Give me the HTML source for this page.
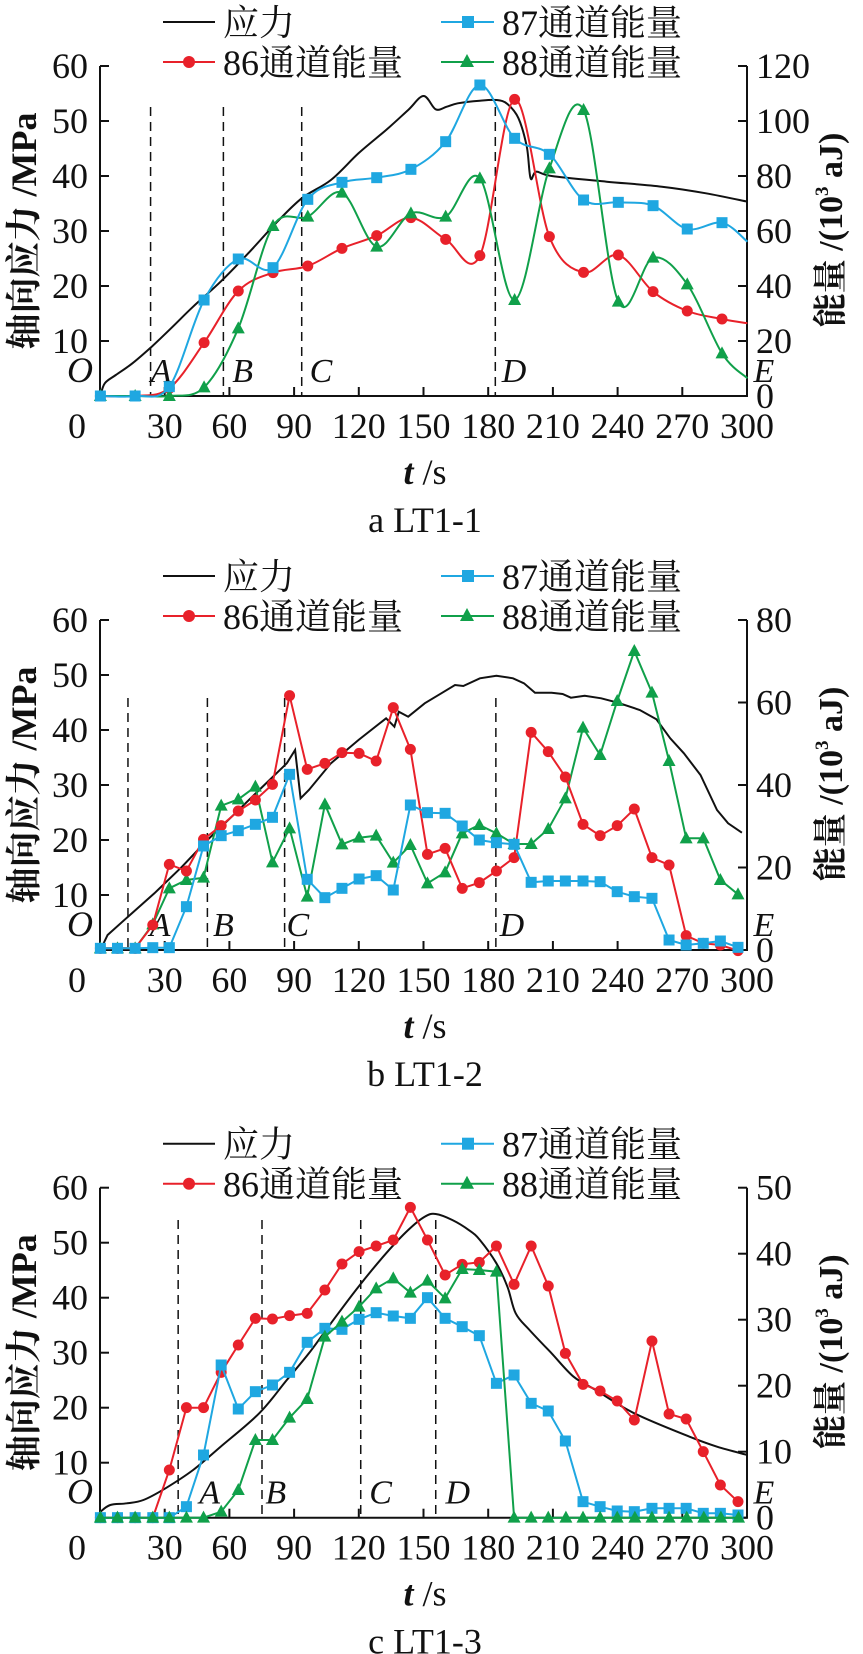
<!DOCTYPE html>
<html><head><meta charset="utf-8">
<style>
html,body{margin:0;padding:0;background:#fff;}
svg{display:block;}
text{font-family:"Liberation Serif","Noto Serif CJK SC",serif;fill:#111;}
</style></head>
<body>
<svg id="s" width="863" height="1654" xmlns="http://www.w3.org/2000/svg"></svg>
<script>
var S=document.getElementById('s');var H='';
var F=1.813;
function X(z){return z/F;}
function pts(arr,off){var r=[];for(var i=0;i<arr.length;i+=2)r.push([X(arr[i]),arr[i+1]/3+off]);return r;}
function lin(p){return 'M'+p.map(function(q){return q[0].toFixed(1)+','+q[1].toFixed(1)}).join('L');}
function cr(p){var d='M'+p[0][0].toFixed(1)+','+p[0][1].toFixed(1);for(var i=0;i<p.length-1;i++){var p0=p[i-1]||p[i],p1=p[i],p2=p[i+1],p3=p[i+2]||p2;var t=6;d+='C'+(p1[0]+(p2[0]-p0[0])/t).toFixed(1)+','+(p1[1]+(p2[1]-p0[1])/t).toFixed(1)+' '+(p2[0]-(p3[0]-p1[0])/t).toFixed(1)+','+(p2[1]-(p3[1]-p1[1])/t).toFixed(1)+' '+p2[0].toFixed(1)+','+p2[1].toFixed(1);}return d;}
function path(d,c,w,extra){H+='<path d="'+d+'" fill="none" stroke="'+c+'" stroke-width="'+w+'" '+(extra||'')+'/>';}
var RED='#e8212a',BLUE='#1fa7e1',GREEN='#10a04a';
function mk(p,type,skipLast){for(var i=0;i<p.length;i++){if(skipLast&&i==p.length-1)continue;var x=p[i][0],y=p[i][1];
 if(type=='c')H+='<circle cx="'+x+'" cy="'+y+'" r="5.5" fill="'+RED+'"/>';
 else if(type=='s')H+='<rect x="'+(x-5.5)+'" y="'+(y-5.5)+'" width="11" height="11" fill="'+BLUE+'"/>';
 else H+='<polygon points="'+x+','+(y-7)+' '+(x-6.5)+','+(y+5)+' '+(x+6.5)+','+(y+5)+'" fill="'+GREEN+'"/>';}}
function series(arr,off,type,col,smooth,skipLast){var p=pts(arr,off);path(smooth?cr(p):lin(p),col,2);mk(p,type,skipLast);}
function panel(o){
 var y0=o.y0,y60=y0-330;
 var ly1=y60-44,ly2=y60-4;
 H+='<line x1="163" y1="'+ly1+'" x2="215" y2="'+ly1+'" stroke="#111" stroke-width="2"/>';
 H+='<text x="223" y="'+(ly1+13)+'" font-size="36">应力</text>';
 H+='<line x1="441" y1="'+ly1+'" x2="494" y2="'+ly1+'" stroke="'+BLUE+'" stroke-width="2"/><rect x="462" y="'+(ly1-6)+'" width="12" height="12" fill="'+BLUE+'"/>';
 H+='<text x="502" y="'+(ly1+13)+'" font-size="36">87通道能量</text>';
 H+='<line x1="163" y1="'+ly2+'" x2="215" y2="'+ly2+'" stroke="'+RED+'" stroke-width="2"/><circle cx="189" cy="'+ly2+'" r="6" fill="'+RED+'"/>';
 H+='<text x="223" y="'+(ly2+13)+'" font-size="36">86通道能量</text>';
 H+='<line x1="441" y1="'+ly2+'" x2="494" y2="'+ly2+'" stroke="'+GREEN+'" stroke-width="2"/><polygon points="467,'+(ly2-8)+' 460,'+(ly2+5)+' 474,'+(ly2+5)+'" fill="'+GREEN+'"/>';
 H+='<text x="502" y="'+(ly2+13)+'" font-size="36">88通道能量</text>';
 H+='<path d="M100,'+y60+'V'+y0+'H747V'+y60+'" fill="none" stroke="#111" stroke-width="2"/>';
 for(var i=0;i<=6;i++){var y=y0-i*55;H+='<line x1="100" y1="'+y+'" x2="109" y2="'+y+'" stroke="#111" stroke-width="2"/>';if(i>0)H+='<text x="88" y="'+(y+12)+'" font-size="36" text-anchor="end">'+(i*10)+'</text>';}
 H+='<text x="80" y="'+(y0-14)+'" font-size="36" text-anchor="middle" font-style="italic">O</text>';
 var n=o.rmax/o.rstep;for(var i=0;i<=n;i++){var y=y0-i*330/n;H+='<line x1="738" y1="'+y+'" x2="747" y2="'+y+'" stroke="#111" stroke-width="2"/><text x="756" y="'+(y+12)+'" font-size="36">'+(i*o.rstep)+'</text>';}
 for(var i=0;i<=10;i++){var x=100+i*64.7;H+='<line x1="'+x+'" y1="'+y0+'" x2="'+x+'" y2="'+(y0-9)+'" stroke="#111" stroke-width="2"/>';H+='<text x="'+(i==0?77:x)+'" y="'+(y0+42)+'" font-size="36" text-anchor="middle">'+(i*30)+'</text>';}
 H+='<text x="425" y="'+(y0+88)+'" font-size="36" text-anchor="middle"><tspan font-style="italic" font-weight="bold">t</tspan> /s</text>';
 H+='<text x="425" y="'+(y0+136)+'" font-size="36" text-anchor="middle">'+o.cap+'</text>';
 H+='<text transform="translate(36,'+(y0-165)+') rotate(-90)" font-size="36" font-weight="bold" text-anchor="middle">轴向应力 /MPa</text>';
 H+='<text transform="translate(842,'+(y0-166)+') rotate(-90)" font-size="34" font-weight="bold" text-anchor="middle">能量 /(10<tspan font-size="19" dy="-14">3</tspan><tspan dy="14"> aJ)</tspan></text>';
 o.dash.forEach(function(zx){var x=X(zx);H+='<line x1="'+x+'" y1="'+o.dtop+'" x2="'+x+'" y2="'+y0+'" stroke="#111" stroke-width="1.5" stroke-dasharray="9,6"/>';});
 o.let.forEach(function(l){H+='<text x="'+X(l[1])+'" y="'+(y0-14)+'" font-size="34" font-style="italic" text-anchor="middle">'+l[0]+'</text>';});
}
panel({y0:396,rmax:120,rstep:20,cap:'a  LT1-1',dash:[273,405,547,898],dtop:107,let:[['A',292],['B',440],['C',582],['D',932],['E',1385]]});
path(cr(pts([182,1188,190,1150,210,1125,240,1090,275,1040,310,985,350,920,400,845,450,760,500,670,547,595,600,540,650,460,700,390,740,330,768,288,790,328,810,320,830,310,870,302,900,300,920,312,940,355,955,440,962,535,972,515,1000,528,1100,545,1200,560,1280,580,1355,605],0)),'#111',2);
series([182,1188,245,1188,307,1165,370,1028,432,873,495,818,558,798,620,745,683,707,745,653,808,718,870,767,933,298,996,710,1058,817,1121,765,1184,875,1246,933,1309,957,1355,970],0,'c',RED,true,true);
series([182,1188,245,1188,307,1188,370,1162,432,985,495,678,558,650,620,578,683,740,745,640,808,650,870,535,933,900,996,505,1058,330,1121,905,1184,773,1246,853,1309,1060,1355,1135],0,'t',GREEN,true,true);
series([182,1188,245,1188,307,1160,370,900,432,777,495,803,558,598,620,547,683,533,745,508,808,425,870,255,933,415,996,463,1058,600,1121,607,1184,617,1246,687,1309,668,1355,725],0,'s',BLUE,true,true);
panel({y0:950,rmax:80,rstep:20,cap:'b  LT1-2',dash:[232,376,516,899],dtop:698,let:[['A',290],['B',405],['C',540],['D',928],['E',1385]]});
path(lin(pts([182,1260,195,1215,232,1160,280,1090,330,1010,376,930,420,860,470,780,520,700,535,660,545,805,560,780,600,700,650,630,700,565,715,590,723,545,740,560,770,520,800,490,825,465,840,468,870,445,900,437,930,445,950,460,970,488,1000,488,1020,492,1035,503,1060,497,1090,505,1120,518,1160,540,1190,568,1215,625,1240,670,1270,735,1300,840,1320,880,1345,908],530)),'#111',2);
series([182,1255,213,1255,245,1255,277,1183,307,1075,338,1050,369,1043,401,827,432,808,463,770,494,997,525,895,557,1100,589,823,620,943,651,923,682,917,713,998,744,945,775,1060,807,1027,838,910,869,885,900,910,932,942,963,942,994,897,1025,805,1057,593,1088,675,1119,513,1150,363,1182,488,1213,693,1244,925,1275,925,1306,1050,1338,1093],530,'t',GREEN,false);
series([182,1255,213,1255,245,1255,277,1185,307,1003,338,1023,369,928,401,887,432,843,463,810,494,763,525,497,557,718,589,700,620,668,651,670,682,693,713,533,744,658,775,973,807,955,838,1075,869,1058,900,1023,932,983,963,607,994,665,1025,741,1057,883,1088,917,1119,887,1150,837,1182,983,1213,1005,1244,1217,1275,1240,1306,1245,1338,1262],530,'c',RED,false);
series([182,1255,213,1255,245,1255,277,1253,307,1253,338,1130,369,948,401,917,432,902,463,883,494,862,525,733,557,1048,589,1103,620,1075,651,1047,682,1037,713,1080,744,825,775,848,807,850,838,888,869,930,900,938,932,943,963,1057,994,1053,1025,1053,1057,1053,1088,1055,1119,1085,1150,1100,1182,1105,1213,1230,1244,1245,1275,1240,1306,1233,1338,1252],530,'s',BLUE,false);
panel({y0:1517.7,rmax:50,rstep:10,cap:'c  LT1-3',dash:[323,475,654,790],dtop:1220,let:[['A',380],['B',500],['C',690],['D',830],['E',1385]]});
path(cr(pts([182,1355,200,1335,230,1330,260,1320,300,1285,350,1230,400,1160,470,1060,520,960,560,880,600,790,650,680,700,580,740,510,770,470,790,462,820,480,850,510,870,540,900,610,920,680,935,760,960,810,1000,880,1040,950,1080,990,1150,1060,1250,1130,1300,1160,1355,1185],1060)),'#111',2);
series([182,1373,213,1373,245,1373,277,1373,307,1230,338,1043,369,1043,401,937,432,855,463,775,494,777,525,767,557,760,589,690,620,612,651,575,682,558,713,540,744,442,775,540,807,645,838,613,869,607,900,558,932,673,963,558,994,678,1025,880,1057,973,1088,993,1119,1023,1150,1080,1182,843,1213,1062,1244,1077,1275,1175,1306,1275,1338,1325],1060,'c',RED,false);
series([182,1373,213,1373,245,1373,277,1373,307,1373,338,1340,369,1185,401,915,432,1047,463,995,494,975,525,937,557,847,589,805,620,808,651,778,682,758,713,768,744,775,775,713,807,775,838,800,869,827,900,970,932,945,963,1030,994,1053,1025,1143,1057,1325,1088,1340,1119,1353,1150,1355,1182,1345,1213,1345,1244,1345,1275,1360,1306,1360,1338,1365],1060,'s',BLUE,false);
(function(){var a=[182,1373,213,1373,245,1373,277,1373,307,1373,338,1373,369,1373,401,1355,432,1290,463,1140,494,1140,525,1073,557,1017,589,830,620,785,651,740,682,685,713,655,744,698,775,662,807,715,838,627,869,630,900,635,932,1373];for(var x=963;x<=1340;x+=31.3)a.push(Math.round(x),1373);series(a,1060,'t',GREEN,false);})();
S.innerHTML=H;
</script>
</body></html>
